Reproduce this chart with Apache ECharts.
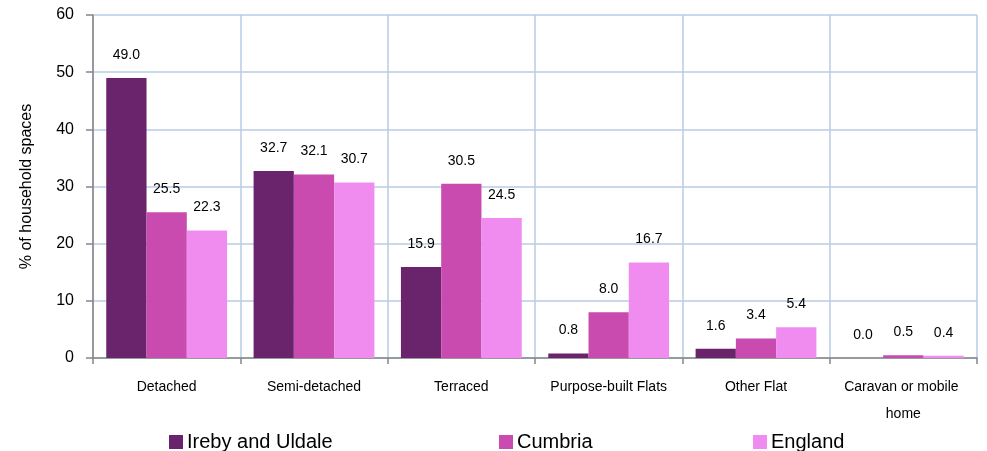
<!DOCTYPE html>
<html>
<head>
<meta charset="utf-8">
<script src="https://cdn.jsdelivr.net/npm/echarts@6/dist/echarts.min.js"></script>
<style>html,body{margin:0;padding:0;background:#fff;}#c{width:987px;height:451px;}</style>
</head>
<body>
<div id="c"></div>
<script>
const categories = ["Detached", "Semi-detached", "Terraced", "Purpose-built Flats", "Other Flat", "Caravan or mobile home"];
const seriesNames = ["Ireby and Uldale", "Cumbria", "England"];
const irebyValues = [49.0, 32.7, 15.9, 0.8, 1.6, 0.0];
const cumbriaValues = [25.5, 32.1, 30.5, 8.0, 3.4, 0.5];
const englandValues = [22.3, 30.7, 24.5, 16.7, 5.4, 0.4];
const yTicks = [0, 10, 20, 30, 40, 50, 60];
const colors = ["#6A246B", "#C94BAF", "#F08CEF"];
const font = "Liberation Sans, Arial, sans-serif";

const chart = echarts.init(document.getElementById('c'), null, {renderer: 'canvas'});
const values = [irebyValues, cumbriaValues, englandValues];
const legendLefts = [164, 494, 748];

const option = {
  animation: false,
  textStyle: {fontFamily: font},
  grid: {left: 93, right: 10, top: 15, bottom: 93, containLabel: false},
  legend: seriesNames.map((n, i) => ({
    data: [n],
    left: legendLefts[i],
    top: 427,
    itemWidth: 14,
    itemHeight: 14,
    itemGap: 5,
    icon: 'rect',
    textStyle: {fontSize: 20, color: '#000', fontFamily: font, padding: [0, 0, 0, -1]},
    selectedMode: false
  })),
  xAxis: {
    type: 'category',
    data: categories,
    boundaryGap: true,
    axisLine: {lineStyle: {color: '#868686', width: 1.5}},
    axisTick: {show: true, length: 6, lineStyle: {color: '#868686', width: 1.5}},
    axisLabel: {color: '#000', fontSize: 14, margin: 16, lineHeight: 27, width: 140, overflow: 'break', interval: 0},
    splitLine: {show: true, lineStyle: {color: '#B7CCE4', width: 1.5}}
  },
  yAxis: {
    type: 'value',
    min: yTicks[0],
    max: yTicks[yTicks.length - 1],
    interval: 10,
    name: '% of household spaces',
    nameLocation: 'middle',
    nameGap: 58,
    nameTextStyle: {color: '#000', fontSize: 16, fontFamily: font},
    axisLine: {show: true, lineStyle: {color: '#868686', width: 1.5}},
    axisTick: {show: true, length: 7, lineStyle: {color: '#868686', width: 1.5}},
    axisLabel: {color: '#000', fontSize: 16, margin: 19},
    splitLine: {show: true, lineStyle: {color: '#B7CCE4', width: 1.5}}
  },
  series: seriesNames.map((n, i) => ({
    name: n,
    type: 'bar',
    data: values[i],
    barGap: '0%',
    barCategoryGap: '18%',
    itemStyle: {color: colors[i]},
    label: {
      show: true,
      position: 'top',
      distance: 16,
      color: '#000',
      fontSize: 14,
      fontFamily: font,
      formatter: p => Number(p.value).toFixed(1)
    }
  }))
};
chart.setOption(option);
</script>
</body>
</html>
